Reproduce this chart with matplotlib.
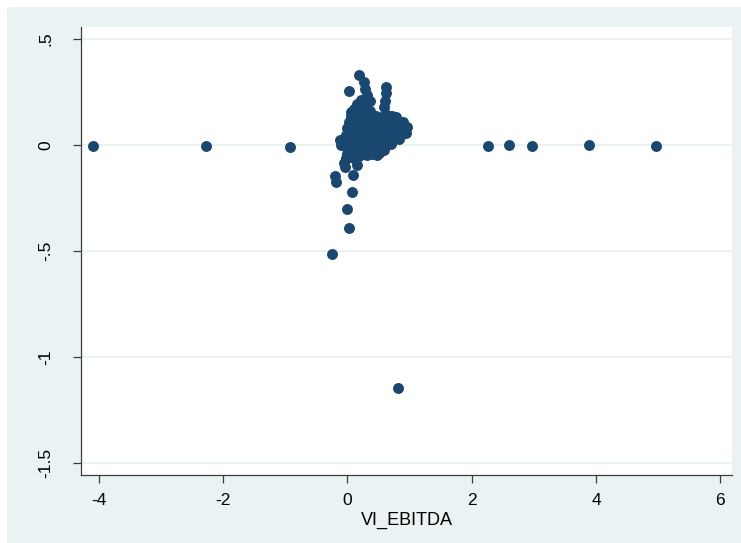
import matplotlib.pyplot as plt
from matplotlib.patches import Rectangle

# outlying firms sitting on the zero line
far_x = [-4.10, -2.28, -0.92, 2.26, 2.60, 2.97, 3.88, 4.97]
far_y = [-0.005, -0.005, -0.010, -0.003, 0.000, -0.004, -0.002, -0.005]

# upper spikes of the cloud
top_x = [0.19, 0.27, 0.03, 0.62, 0.62, 0.60, 0.28, 0.32, 0.36, 0.22, 0.15, 0.25, 0.58]
top_y = [0.330, 0.297, 0.255, 0.274, 0.245, 0.208, 0.264, 0.236, 0.208, 0.212, 0.193, 0.190, 0.180]

# lower tail
tail_x = [-0.05, -0.04, 0.155, 0.09, -0.20, -0.18, 0.074, -0.006, 0.026, -0.25, 0.815,
          -0.02, 0.06, 0.12, 0.18]
tail_y = [-0.085, -0.104, -0.094, -0.140, -0.146, -0.175, -0.222, -0.302, -0.392, -0.514, -1.146,
          -0.060, -0.058, -0.066, -0.052]

# dense core of the cloud
core_x = [0.10, 0.17, 0.24, 0.31, 0.06, 0.36,
          0.05, 0.13, 0.21, 0.29, 0.37, 0.46, 0.55, 0.63, 0.71, 0.78,
          0.02, 0.10, 0.18, 0.26, 0.34, 0.42, 0.50, 0.58, 0.66, 0.74, 0.82, 0.90,
          0.00, 0.08, 0.16, 0.24, 0.32, 0.40, 0.48, 0.56, 0.64, 0.72, 0.80, 0.88, 0.95,
          -0.02, 0.06, 0.14, 0.22, 0.30, 0.38, 0.46, 0.54, 0.62, 0.70, 0.78, 0.86, 0.94,
          -0.06, 0.02, 0.10, 0.18, 0.26, 0.34, 0.42, 0.50, 0.58, 0.66, 0.74, 0.83,
          -0.12, -0.10, -0.03, 0.05, 0.13, 0.21, 0.29, 0.37, 0.45, 0.53, 0.62, 0.70,
          0.04, 0.12, 0.20, 0.28, 0.36, 0.43, 0.50, 0.58,
          -0.01, 0.08, 0.16, 0.24, 0.32, 0.40, 0.47]
core_y = [0.172, 0.166, 0.176, 0.163, 0.158, 0.160,
          0.138, 0.145, 0.141, 0.136, 0.143, 0.139, 0.134, 0.141, 0.137, 0.132,
          0.108, 0.112, 0.105, 0.114, 0.109, 0.111, 0.106, 0.113, 0.108, 0.110, 0.104, 0.107,
          0.079, 0.083, 0.077, 0.081, 0.085, 0.078, 0.082, 0.076, 0.084, 0.080, 0.078, 0.083, 0.086,
          0.048, 0.052, 0.046, 0.053, 0.049, 0.051, 0.047, 0.054, 0.050, 0.046, 0.052, 0.049, 0.055,
          0.021, 0.018, 0.024, 0.019, 0.022, 0.017, 0.023, 0.020, 0.025, 0.018, 0.022, 0.027,
          0.026, -0.002, -0.008, -0.012, -0.006, -0.011, -0.009, -0.004, -0.010, -0.003, 0.002, 0.006,
          -0.032, -0.036, -0.030, -0.034, -0.028, -0.031, -0.038, -0.022,
          -0.040, -0.046, -0.050, -0.044, -0.048, -0.042, -0.047]

x_ticks = [-4, -2, 0, 2, 4, 6]
y_ticks = [-1.5, -1, -0.5, 0, 0.5]
y_tick_labels = ["-1.5", "-1", "-.5", "0", ".5"]

bg = '#eaf2f3'
navy = '#1a476f'

plt.rcParams['font.family'] = ['Liberation Sans', 'DejaVu Sans']

fig = plt.figure(figsize=(7.41, 5.43), dpi=100)
fig.patches.append(Rectangle((7 / 741, 0), 1, 1 - 7 / 543, transform=fig.transFigure,
                             facecolor=bg, edgecolor='none', zorder=-1))

ax = fig.add_axes([81 / 741, 1 - 475 / 543, 651 / 741, 448 / 543])
ax.set_facecolor('white')

xs = far_x + top_x + tail_x + core_x
ys = far_y + top_y + tail_y + core_y
ax.scatter(xs, ys, s=62, color=navy, linewidths=0, zorder=3)

ax.set_xlim(-4.29, 6.19)
ax.set_ylim(-1.557, 0.557)
ax.set_xticks(x_ticks)
ax.set_xticklabels([str(t) for t in x_ticks])
ax.set_yticks(y_ticks)
ax.set_yticklabels(y_tick_labels)

ax.grid(axis='y', color=bg, linewidth=1.4)
ax.set_axisbelow(True)

for side in ['top', 'right']:
    ax.spines[side].set_visible(False)
for side in ['left', 'bottom']:
    ax.spines[side].set_color('#3c3c3c')
    ax.spines[side].set_linewidth(0.9)

ax.tick_params(axis='both', length=5.8, width=0.9, color='#3c3c3c', labelsize=12.5, labelcolor='black')
ax.tick_params(axis='x', pad=7)
ax.tick_params(axis='y', pad=14, labelrotation=90)
for lab in ax.get_yticklabels():
    lab.set_va('center')

ax.set_xlabel('VI_EBITDA', fontsize=13, labelpad=3)

fig.savefig('out.png', dpi=100)
